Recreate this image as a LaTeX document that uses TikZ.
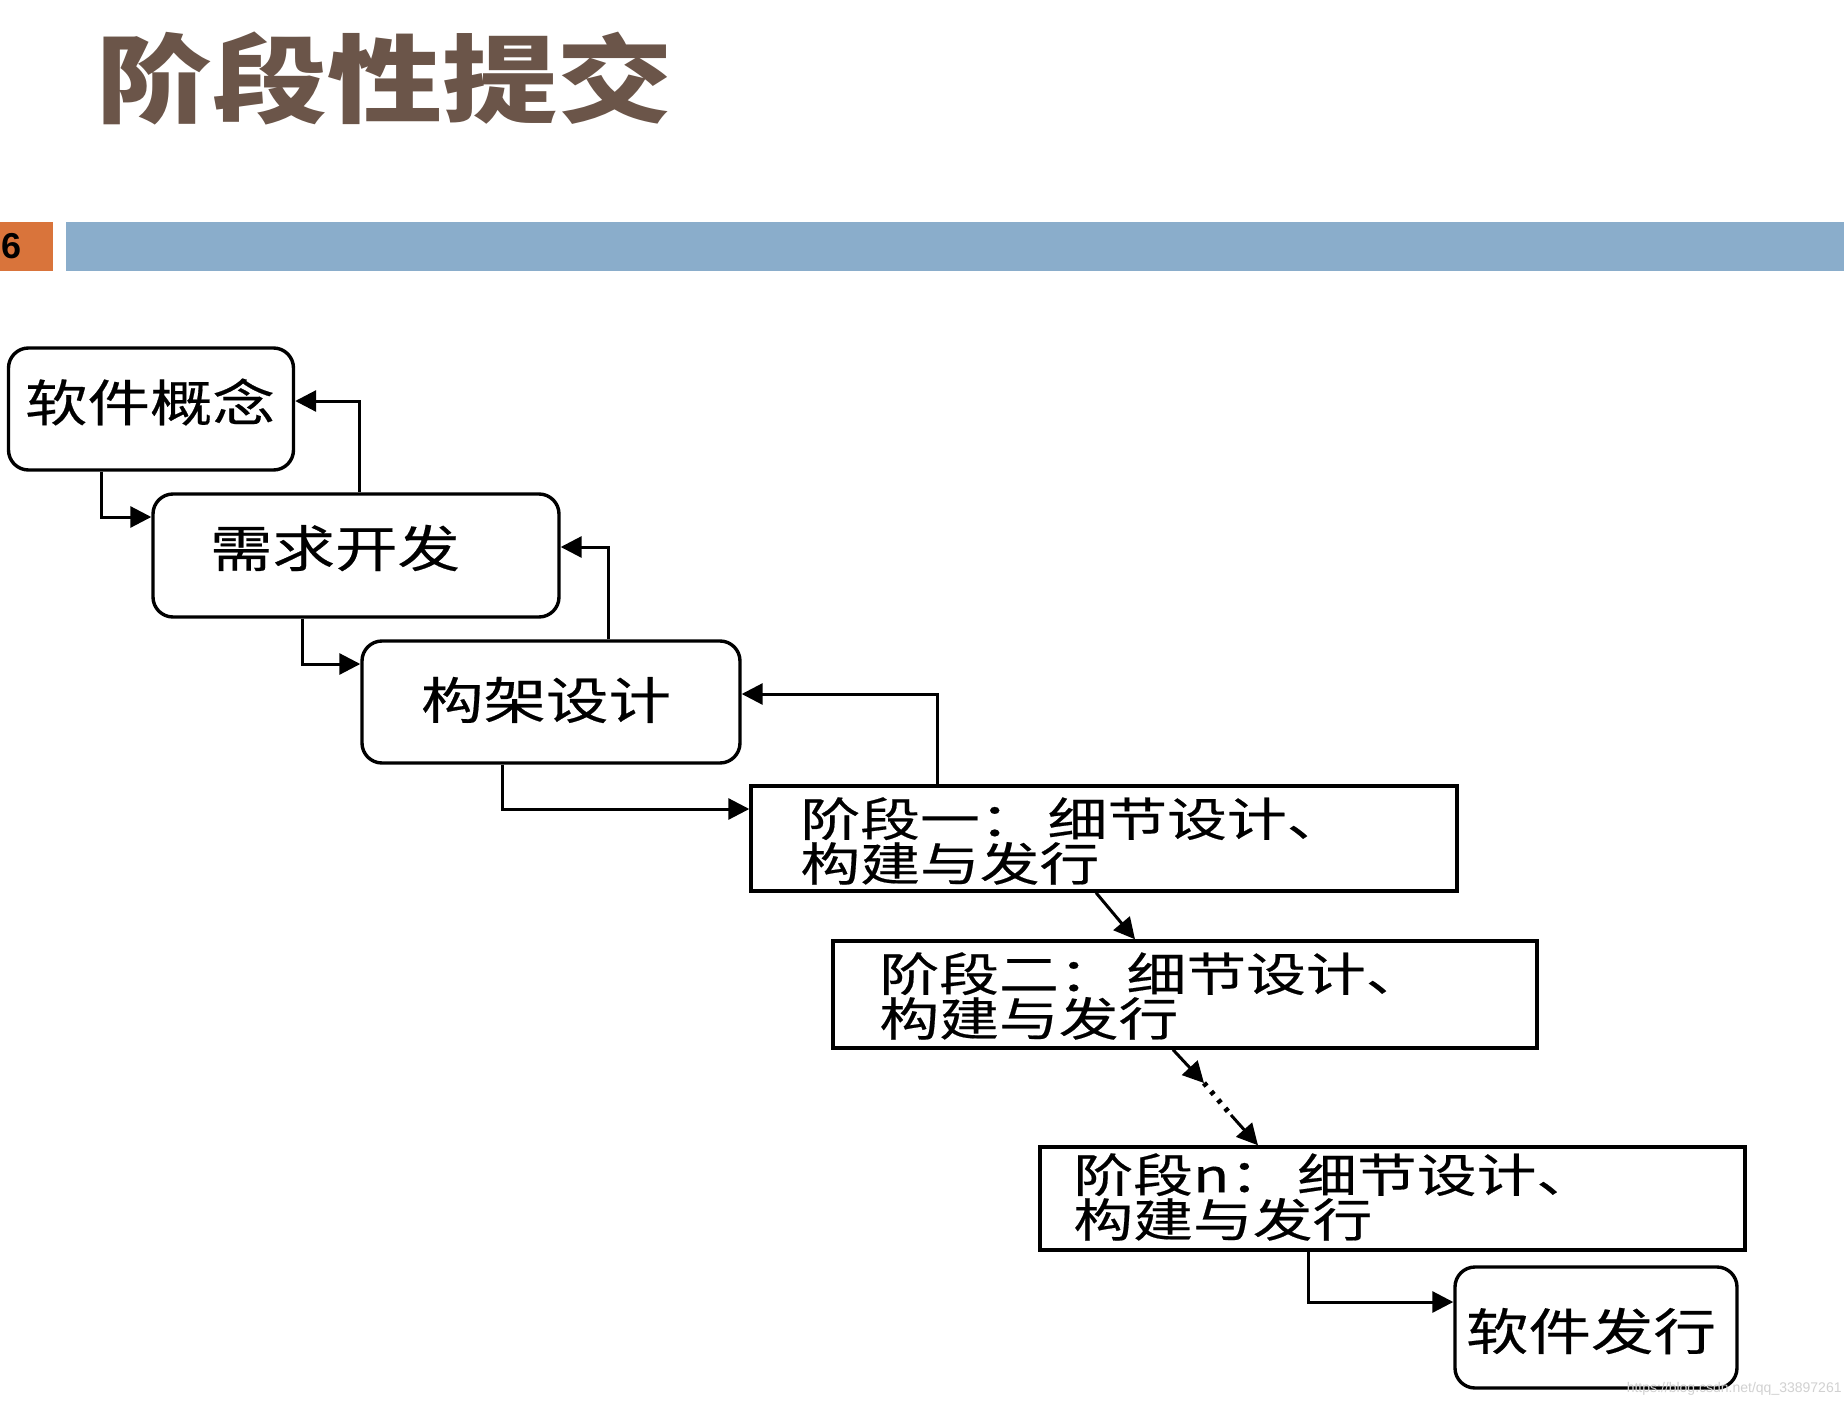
\documentclass[tikz,border=0pt]{standalone}
\usepackage{fontspec}
\setmainfont{Liberation Sans}
\newfontfamily\cjk[FakeStretch=1.25,FakeBold=0.4]{Noto Sans CJK SC}
\newfontfamily\cjkstage[FakeStretch=1.3,FakeBold=0.4]{Noto Sans CJK SC}
\newfontfamily\titlefont[FakeStretch=1.2]{Noto Sans CJK SC}
\usetikzlibrary{arrows.meta}
\definecolor{titlebrown}{HTML}{6B5549}
\definecolor{barorange}{HTML}{D9743B}
\definecolor{barblue}{HTML}{8AADCB}
\begin{document}
\begin{tikzpicture}[x=0.5pt,y=-0.5pt,
  rbox/.style={draw,line width=1.7pt,rounded corners=10pt,inner sep=0pt},
  sbox/.style={draw,line width=1.7pt,inner sep=0pt},
  lbl/.style={font=\cjk\fontsize{25}{25}\selectfont,inner sep=0pt},
  slbl/.style={font=\cjkstage\fontsize{23}{20.5}\selectfont,align=left,inner sep=0pt,anchor=west},
  arr/.style={line width=1.5pt,-{Triangle[length=10.5pt,width=10.5pt]}},
  dotline/.style={line width=2.6pt,dash pattern=on 2pt off 3.5pt},
]
\useasboundingbox[fill=white] (0,0) rectangle (1844,1408);

% header
\node[font=\titlefont\bfseries\fontsize{48}{48}\selectfont,text=titlebrown,inner sep=0pt] (title) at (385,78) {阶段性提交};
\fill[barorange] (0,222) rectangle (53,271);
\fill[barblue] (66,222) rectangle (1844,271);
\node[font=\bfseries\fontsize{18}{18}\selectfont,anchor=west,inner sep=0pt] (pagenum) at (1,246) {6};

% boxes
\node[rbox,minimum width=142.5pt,minimum height=61pt] (soft) at (151,409) {};
\node[rbox,minimum width=203pt,minimum height=61.5pt] (req) at (356,555.5) {};
\node[rbox,minimum width=189pt,minimum height=61pt] (arch) at (551,702) {};
\node[sbox,minimum width=353pt,minimum height=52.5pt] (s1) at (1104,838.5) {};
\node[sbox,minimum width=352pt,minimum height=53.5pt] (s2) at (1185,994.5) {};
\node[sbox,minimum width=352.5pt,minimum height=51.5pt] (sn) at (1392.5,1198.5) {};
\node[rbox,minimum width=141pt,minimum height=60.5pt] (rel) at (1596,1327.5) {};

% labels
\node[lbl] (lsoft) at (150,402) {软件概念};
\node[lbl] (lreq) at (335,548) {需求开发};
\node[lbl] (larch) at (546,700) {构架设计};
\node[lbl] (lrel) at (1591,1331) {软件发行};
\node[slbl] (ls1) at (800,841) {阶段一：\hspace{4pt}细节设计、\\构建与发行};
\node[slbl] (ls2) at (879,996) {阶段二：\hspace{4pt}细节设计、\\构建与发行};
\node[slbl] (lsn) at (1073,1197) {阶段n：\hspace{4pt}细节设计、\\构建与发行};

% connectors
\coordinate (k1) at (101,517);
\coordinate (k2) at (359,401);
\coordinate (k3) at (302,664);
\coordinate (k4) at (608,547);
\coordinate (k5) at (502,809);
\coordinate (k6) at (937,694);
\coordinate (k7a) at (1096,891);
\coordinate (k7b) at (1135,941);
\coordinate (k8a) at (1173,1048);
\coordinate (k8b) at (1204,1083);
\coordinate (k8c) at (1231,1115);
\coordinate (k8d) at (1258,1147);
\coordinate (k9) at (1308,1302);

\draw[arr] (soft.south -| k1) |- (k1 -| req.west);
\draw[arr] (req.north -| k2) |- (k2 -| soft.east);
\draw[arr] (req.south -| k3) |- (k3 -| arch.west);
\draw[arr] (arch.north -| k4) |- (k4 -| req.east);
\draw[arr] (arch.south -| k5) |- (k5 -| s1.west);
\draw[arr] (s1.north -| k6) |- (k6 -| arch.east);
\draw[arr] (s1.south -| k7a) -- (s2.north -| k7b);
\draw[arr] (s2.south -| k8a) -- (k8b);
\draw[dotline] (k8b) -- (k8c);
\draw[arr] (k8c) -- (sn.north -| k8d);
\draw[arr] (sn.south -| k9) |- (k9 -| rel.west);

% watermark
\node[anchor=east,text=black!18,font=\fontsize{7}{7}\selectfont,inner sep=0pt] (wm) at (1842,1389) {https://blog.csdn.net/qq\_33897261};
\end{tikzpicture}
\end{document}
